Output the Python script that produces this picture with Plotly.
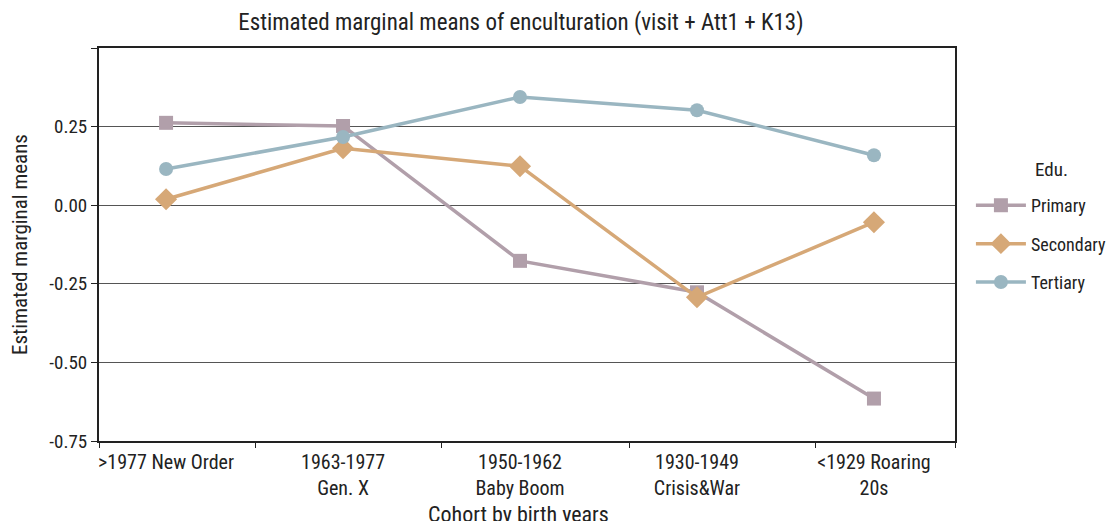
import plotly.graph_objects as go

# data
cohorts = [">1977 New Order", "1963-1977<br>Gen. X", "1950-1962<br>Baby Boom",
           "1930-1949<br>Crisis&War", "<1929 Roaring<br>20s"]
primary = [0.262, 0.252, -0.177, -0.277, -0.615]
secondary = [0.019, 0.181, 0.124, -0.293, -0.054]
tertiary = [0.115, 0.217, 0.344, 0.302, 0.159]

y_ticks = [0.5, 0.25, 0.0, -0.25, -0.5, -0.75]
y_labels = ["", "0.25", "0.00", "-0.25", "-0.50", "-0.75"]

FONT = "Roboto Condensed, Liberation Sans Narrow, Roboto, sans-serif"
xpos = list(range(len(cohorts)))

series = [
    ("Primary", primary, "#b19faa", "square"),
    ("Secondary", secondary, "#d6a877", "diamond"),
    ("Tertiary", tertiary, "#9ab6c1", "circle"),
]

fig = go.Figure()
for name, vals, col, sym in series:
    fig.add_trace(go.Scatter(
        x=xpos, y=vals, name=name, mode="lines+markers", legendgroup=name,
        line=dict(color=col, width=3.5),
        marker=dict(symbol=sym, size=14 if sym != "diamond" else 17, color=col),
    ))

# separate axis only for the bottom tick marks (they sit between labels)
fig.add_trace(go.Scatter(x=[], y=[], xaxis="x2", showlegend=False))

# the page body has an 8px margin, so keep the figure 16px smaller than the window
fig.update_layout(
    width=1103, height=513,
    margin=dict(l=91, r=156, t=40, b=80),
    paper_bgcolor="white", plot_bgcolor="white",
    font=dict(family=FONT, size=19, color="#222"),
    title=dict(text="Estimated marginal means of enculturation (visit + Att1 + K13)",
               x=0.465, xanchor="center", y=0.973, yanchor="middle",
               font=dict(size=23, color="#222")),
    xaxis=dict(range=[-0.379, 4.458], tickvals=xpos, ticktext=cohorts,
               ticks="", showgrid=False, zeroline=False, automargin=False,
               showline=True, linecolor="#222", linewidth=2, mirror=True,
               tickfont=dict(size=20), ticklabelstandoff=2),
    xaxis2=dict(overlaying="x", range=[-0.379, 4.458],
                tickvals=[-0.379, 0.503, 1.559, 2.616, 3.672, 4.458],
                ticktext=[""] * 6, ticks="outside", ticklen=6, tickcolor="#222",
                tickwidth=1, showgrid=False, zeroline=False, side="bottom",
                anchor="y", automargin=False),
    yaxis=dict(range=[-0.75, 0.5], tickvals=y_ticks, ticktext=y_labels,
               ticks="outside", ticklen=6, tickcolor="#222", automargin=False,
               showgrid=True, gridcolor="#555", gridwidth=1, zeroline=False,
               showline=True, linecolor="#222", linewidth=2, mirror=True,
               title=dict(text="Estimated marginal means", font=dict(size=21), standoff=16),
               tickfont=dict(size=19)),
    legend=dict(xref="container", yref="container", x=0.873, y=0.651,
                xanchor="left", yanchor="top",
                tracegroupgap=12, font=dict(size=18), itemwidth=50,
                bgcolor="rgba(0,0,0,0)"),
    annotations=[
        dict(text="Edu.", xref="paper", yref="paper", x=1.091, y=0.69,
             xanchor="left", yanchor="middle", showarrow=False, font=dict(size=19)),
        # x axis title kept as an annotation so it can sit below the two-line labels
        dict(text="Cohort by birth years", xref="paper", yref="paper", x=0.49, y=-0.188,
             xanchor="center", yanchor="middle", showarrow=False, font=dict(size=22)),
    ],
)

fig.write_html("out.html")
